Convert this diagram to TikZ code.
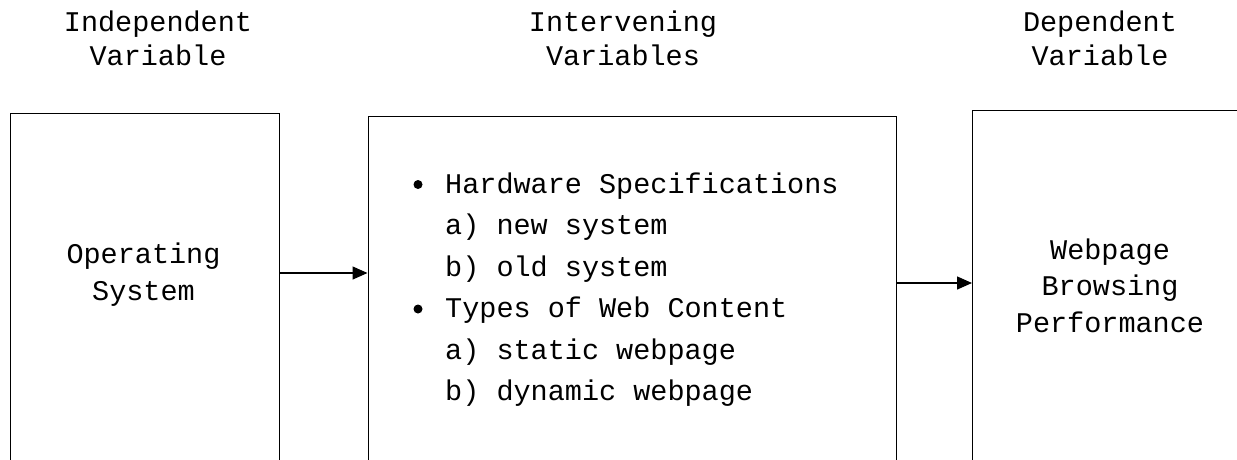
\documentclass[tikz,border=0pt]{standalone}
\usepackage{fontspec}
\setmainfont{Liberation Mono}
\usetikzlibrary{arrows.meta}
\begin{document}
\begin{tikzpicture}[x=1pt,y=-1pt,
  txt/.style={inner sep=0pt,anchor=base,font=\fontsize{28.5}{30}\selectfont},
  item/.style={inner sep=0pt,anchor=base west,font=\fontsize{28.5}{30}\selectfont},
  boxframe/.style={draw,line width=1.4pt,inner sep=0pt,anchor=north west},
  conn/.style={line width=1.4pt,-{Triangle[length=15pt,width=13pt]}},
  bulletdot/.style={circle,fill,inner sep=0pt,minimum size=9pt}]
\useasboundingbox (0,0) rectangle (1237,459);
\clip (0,0) rectangle (1237,459);
% boxes (cut off at the bottom / right)
\node[boxframe,minimum width=269pt,minimum height=600pt] (box1) at (10,113) {};
\node[boxframe,minimum width=528pt,minimum height=600pt] (box2) at (367.5,115.5) {};
\node[boxframe,minimum width=400pt,minimum height=600pt] (box3) at (972,109.5) {};
% headings
\node[txt] (h1a) at (158,31.5) {Independent};
\node[txt] (h1b) at (158,65) {Variable};
\node[txt] (h2a) at (623,31.5) {Intervening};
\node[txt] (h2b) at (623,65) {Variables};
\node[txt] (h3a) at (1100,31.5) {Dependent};
\node[txt] (h3b) at (1100,65) {Variable};
% box texts
\node[txt] (os1) at (143.5,263) {Operating};
\node[txt] (os2) at (143.5,300) {System};
\node[txt] (wb1) at (1110,259) {Webpage};
\node[txt] (wb2) at (1110,295.5) {Browsing};
\node[txt] (wb3) at (1110,332) {Performance};
% list
\node[bulletdot] (b1) at (418,184.5) {};
\node[item] (l1) at (445,193) {Hardware Specifications};
\node[item] (l2) at (445,234.5) {a) new system};
\node[item] (l3) at (445,276) {b) old system};
\node[bulletdot] (b2) at (418,309) {};
\node[item] (l4) at (445,317.5) {Types of Web Content};
\node[item] (l5) at (445,359) {a) static webpage};
\node[item] (l6) at (445,400.5) {b) dynamic webpage};
% connectors
\coordinate (y1) at (0,273);
\coordinate (y2) at (0,283);
\draw[conn] (box1.east |- y1) -- (box2.west |- y1);
\draw[conn] (box2.east |- y2) -- (box3.west |- y2);
\end{tikzpicture}
\end{document}
